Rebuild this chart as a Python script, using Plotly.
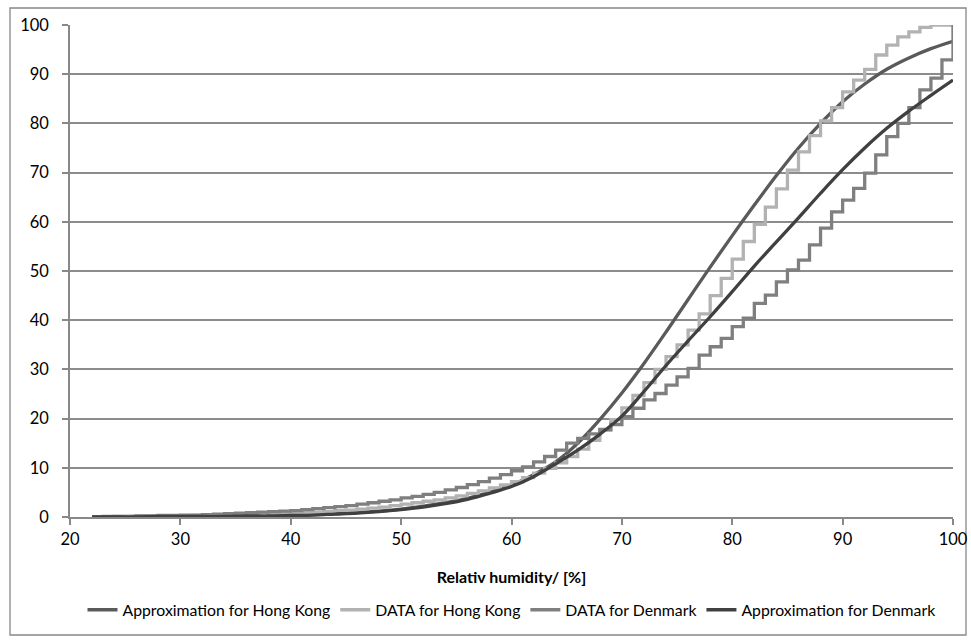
import plotly.graph_objects as go

# ---------------- data ----------------
x_data = list(range(22, 101))

hk_data = [0.0, 0.0, 0.1, 0.1, 0.1, 0.1, 0.2, 0.2, 0.2, 0.3,
           0.3, 0.3, 0.4, 0.4, 0.5, 0.5, 0.6, 0.7, 0.8, 0.9,
           1.0, 1.1, 1.3, 1.4, 1.6, 1.8, 2.0, 2.3, 2.6, 2.9,
           3.2, 3.5, 3.9, 4.3, 4.8, 5.3, 5.9, 6.5, 7.2, 8.0,
           8.9, 9.9, 11.0, 12.3, 13.8, 15.6, 17.6, 19.8, 22.2, 24.7,
           27.3, 30.0, 32.6, 35.0, 38.0, 41.3, 45.0, 48.5, 52.4, 56.0,
           59.5, 63.0, 66.7, 70.5, 74.2, 77.5, 80.5, 83.2, 86.4, 88.8,
           91.0, 93.9, 95.9, 97.6, 98.6, 99.5, 100.0, 100.0, 100.0]

dk_data = [0.0, 0.1, 0.1, 0.1, 0.2, 0.2, 0.3, 0.3, 0.4, 0.4,
           0.5, 0.6, 0.7, 0.8, 0.9, 1.0, 1.1, 1.2, 1.3, 1.5,
           1.7, 1.9, 2.1, 2.3, 2.6, 2.9, 3.2, 3.5, 3.9, 4.2,
           4.6, 5.0, 5.5, 6.0, 6.6, 7.2, 7.9, 8.6, 9.4, 10.2,
           11.2, 12.3, 13.6, 15.0, 16.0, 16.9, 17.8, 18.8, 20.4, 22.1,
           23.8, 25.1, 26.8, 28.5, 30.2, 32.9, 34.6, 36.3, 38.7, 40.4,
           43.4, 45.1, 47.8, 50.2, 52.2, 55.3, 58.7, 62.0, 64.4, 66.8,
           69.9, 73.6, 77.3, 80.0, 83.2, 86.8, 89.2, 92.9, 100.0]

x_fit = [22, 24, 26, 28, 30, 32, 34, 36, 38, 40, 42, 44, 46, 48, 50, 52, 54, 56, 58, 60,
         62, 64, 66, 68, 70, 72, 74, 76, 78, 80, 82, 84, 86, 88, 90, 92, 94, 96, 98, 100]

hk_fit = [0.0, 0.0, 0.1, 0.1, 0.1, 0.1, 0.2, 0.2, 0.3, 0.4, 0.5, 0.7, 0.9, 1.2, 1.6, 2.2, 2.9, 3.8, 5.0, 6.5,
          8.6, 11.2, 15.0, 19.8, 25.2, 31.2, 37.6, 44.2, 50.8, 57.2, 63.4, 69.4, 75.0, 80.0, 84.4, 88.0, 91.0, 93.3, 95.2, 96.7]

dk_fit = [0.0, 0.0, 0.0, 0.1, 0.1, 0.1, 0.1, 0.2, 0.2, 0.3, 0.4, 0.6, 0.8, 1.1, 1.5, 2.0, 2.7, 3.6, 4.8, 6.2,
          8.2, 10.8, 13.6, 16.8, 20.5, 25.5, 30.8, 35.8, 40.7, 45.8, 51.0, 55.9, 60.8, 65.8, 70.6, 75.0, 79.0, 82.5, 85.7, 88.8]

series_names = ["Approximation for Hong Kong", "DATA for Hong Kong",
                "DATA for Denmark", "Approximation for Denmark"]
series_colors = ["#5a5a5a", "#b2b2b2", "#7f7f7f", "#404040"]

x_ticks = [20, 30, 40, 50, 60, 70, 80, 90, 100]
y_ticks = [0, 10, 20, 30, 40, 50, 60, 70, 80, 90, 100]

FONT = "Lato"

fig = go.Figure()
fig.add_trace(go.Scatter(x=x_fit, y=hk_fit, mode="lines", name=series_names[0],
                         line=dict(color=series_colors[0], width=3.3, shape="spline")))
fig.add_trace(go.Scatter(x=x_data, y=hk_data, mode="lines", name=series_names[1],
                         line=dict(color=series_colors[1], width=3.3, shape="hv")))
fig.add_trace(go.Scatter(x=x_data, y=dk_data, mode="lines", name=series_names[2],
                         line=dict(color=series_colors[2], width=3.3, shape="hv")))
fig.add_trace(go.Scatter(x=x_fit, y=dk_fit, mode="lines", name=series_names[3],
                         line=dict(color=series_colors[3], width=3.3, shape="spline")))

# outer chart border
L, R, T, B = 70, 18, 25, 125
W, H = 971, 642
pw, ph = W - L - R, H - T - B
fig.add_shape(type="rect", xref="paper", yref="paper",
              x0=(10 - L) / pw, x1=(966 - L) / pw,
              y0=(H - B - 635) / ph, y1=(H - B - 8) / ph,
              line=dict(color="#888888", width=1.3), layer="below")

fig.update_layout(
    width=W, height=H,
    margin=dict(l=L, r=R, t=T, b=B, autoexpand=False),
    paper_bgcolor="white", plot_bgcolor="white",
    font=dict(family=FONT, size=16, color="black"),
    showlegend=True,
    legend=dict(orientation="h", x=0.5, xanchor="center", y=-0.189, yanchor="middle",
                font=dict(family=FONT, size=15.8, color="black"),
                itemwidth=30, tracegroupgap=0, bgcolor="rgba(0,0,0,0)"),
    xaxis=dict(range=[20, 100], tickvals=x_ticks, ticktext=[str(v) for v in x_ticks],
               automargin=False,
               showgrid=False, zeroline=False, showline=True, linecolor="#888888", linewidth=1.5,
               ticks="outside", ticklen=6, tickcolor="#888888", tickwidth=1.5,
               tickfont=dict(family=FONT, size=16.5, color="black"),
               title=dict(text="<b>Relativ humidity/ [%]</b>", font=dict(family=FONT, size=16, color="black"),
                          standoff=24)),
    yaxis=dict(range=[0, 100], tickvals=y_ticks, ticktext=[str(v) for v in y_ticks],
               automargin=False,
               showgrid=True, gridcolor="#8c8c8c", gridwidth=1.5,
               zeroline=False, showline=True, linecolor="#888888", linewidth=1.5,
               ticks="outside", ticklen=6, tickcolor="#888888", tickwidth=1.5,
               ticklabelstandoff=10,
               tickfont=dict(family=FONT, size=16.5, color="black")),
)

fig.write_html("out.html")
